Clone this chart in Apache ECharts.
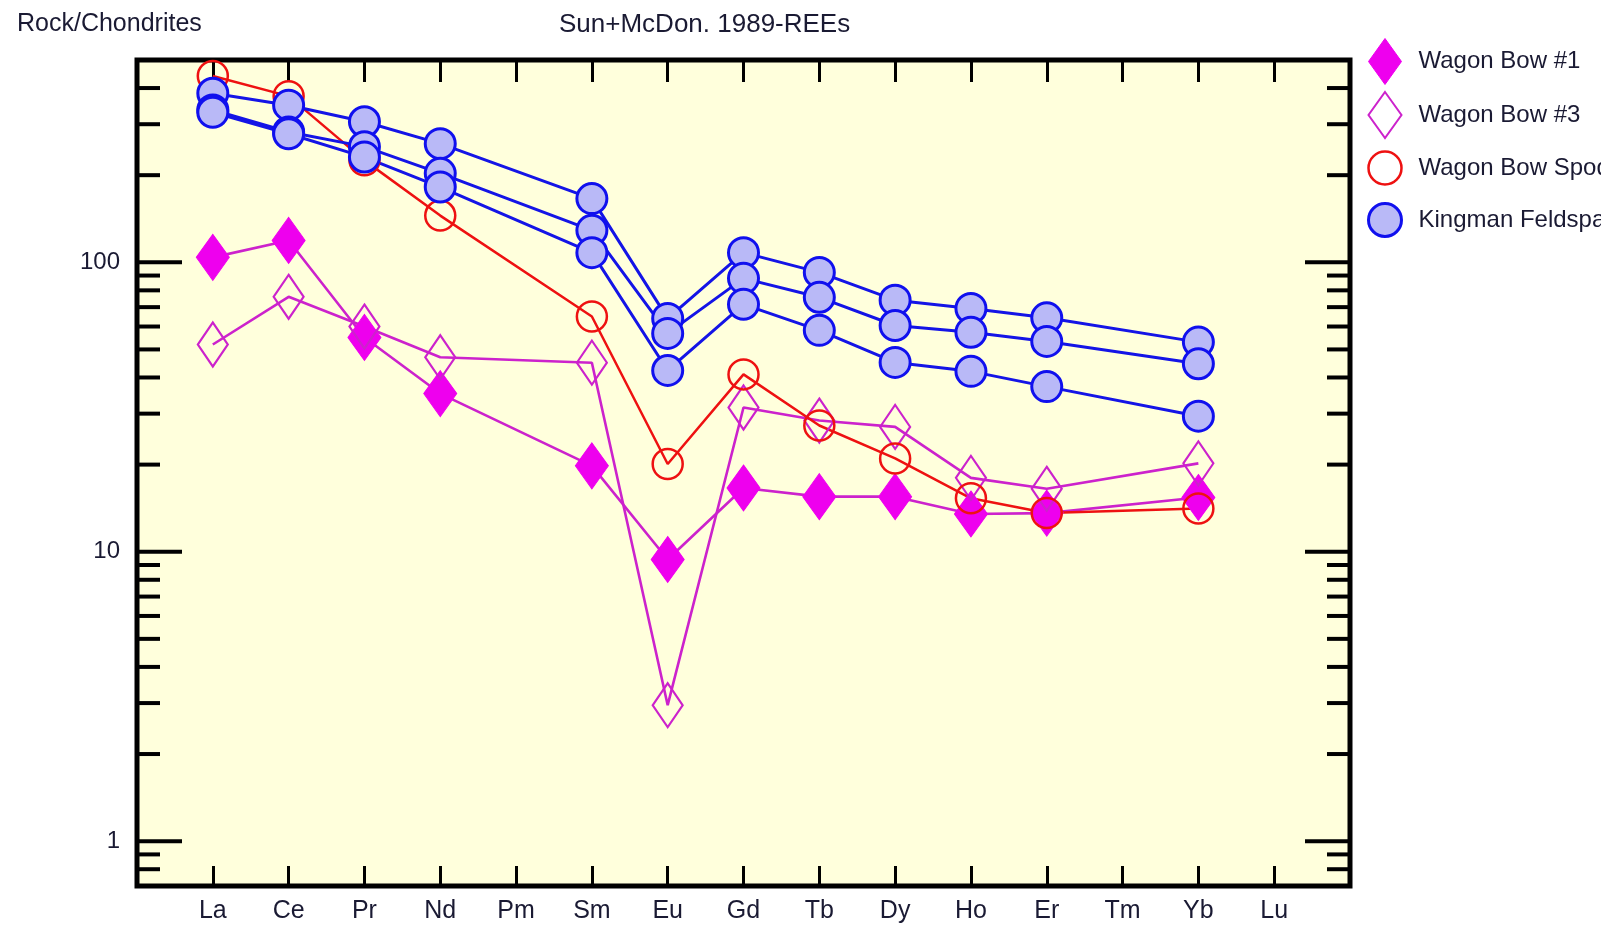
<!DOCTYPE html>
<html lang="en">
<head>
    <meta charset="utf-8">
    <title>Rock/Chondrites REE</title>
    <script type="text/javascript" src="https://cdn.jsdelivr.net/npm/echarts@6.0.0/dist/echarts.min.js"></script>
    <style>
        html, body { margin: 0; padding: 0; background: #fff; }
        #main { width: 1601px; height: 927px; }
    </style>
</head>
<body>
    <div id="main"></div>

    <script type="text/javascript">
    // REE order, Pm / Tm / Lu have no analyses
    var ree = ['La', 'Ce', 'Pr', 'Nd', 'Pm', 'Sm', 'Eu', 'Gd', 'Tb', 'Dy', 'Ho', 'Er', 'Tm', 'Yb', 'Lu'];

    var wagonBow1 = [104, 119, 55, 35.2, null, 19.8, 9.4, 16.6, 15.5, 15.5, 13.5, 13.6, null, 15.4, null];
    var wagonBow3 = [52, 76, 60, 47, null, 45, 2.95, 31.5, 28.4, 27, 18, 16.5, null, 20.2, null];
    var wagonBowSp = [440, 375, 225, 145, null, 65, 20.1, 41, 27.3, 21, 15.3, 13.6, null, 14.1, null];
    var kingmanA = [384, 349, 306, 257, null, 166, 64, 108, 92.3, 74, 69.3, 64.3, null, 53, null];
    var kingmanB = [336, 282, 251, 203, null, 129, 56.8, 88, 75.7, 60.5, 57.3, 53.3, null, 44.6, null];
    var kingmanC = [330, 278, 231, 182, null, 108, 42.3, 71.6, 58.2, 45.1, 42, 37.2, null, 29.4, null];

    // y axis tick values, drawn on both sides of the frame
    var majorTicks = [1, 10, 100];
    var minorTicks = [0.8, 0.9, 2, 3, 4, 5, 6, 7, 8, 9, 20, 30, 40, 50, 60, 70, 80, 90, 200, 300, 400];

    var font = "'Liberation Sans', Arial, sans-serif";
    var ink = '#1a1a33';

    function pairs(arr) {
        var out = [];
        arr.forEach(function (v, i) {
            if (v != null) out.push([i + 1, v]);
        });
        return out;
    }

    function kingman(arr) {
        return {
            name: 'Kingman Feldspar',
            type: 'line',
            data: pairs(arr),
            symbol: 'circle',
            symbolSize: 30,
            itemStyle: { color: '#b9b9f7', borderColor: '#1010ee', borderWidth: 3 },
            lineStyle: { color: '#1414e6', width: 3 }
        };
    }

    var myChart = echarts.init(document.getElementById('main'));

    myChart.setOption({
        animation: false,
        title: [{
            text: 'Rock/Chondrites',
            left: 17, top: 12, padding: 0,
            textStyle: { fontSize: 25, fontWeight: 'normal', fontFamily: font, color: ink }
        }, {
            text: 'Sun+McDon. 1989-REEs',
            left: 559, top: 12, padding: 0,
            textStyle: { fontSize: 26, fontWeight: 'normal', fontFamily: font, color: ink }
        }],
        legend: {
            orient: 'vertical',
            left: 1367, top: 38, padding: 0,
            itemWidth: 33, itemHeight: 46, itemGap: 6,
            selectedMode: false,
            textStyle: { fontSize: 24, lineHeight: 46, fontFamily: font, color: ink, padding: [0, 0, 0, 12] },
            data: [
                { name: 'Wagon Bow #1', icon: 'diamond', itemStyle: { color: '#ee00ee', borderColor: '#ee00ee', borderWidth: 1 } },
                { name: 'Wagon Bow #3', icon: 'diamond', itemStyle: { color: '#ffffff', borderColor: '#cc22cc', borderWidth: 2 } },
                { name: 'Wagon Bow Spodumene', icon: 'circle', itemStyle: { color: '#ffffff', borderColor: '#ee1111', borderWidth: 2.5 } },
                { name: 'Kingman Feldspar', icon: 'circle', itemStyle: { color: '#b9b9f7', borderColor: '#1010ee', borderWidth: 3 } }
            ]
        },
        grid: {
            left: 137, top: 60, right: 251, bottom: 41,
            show: true,
            backgroundColor: '#ffffdc',
            borderColor: '#000',
            borderWidth: 5
        },
        xAxis: [{
            type: 'value', min: 0, max: 16, interval: 1,
            position: 'bottom',
            axisLine: { show: false },
            splitLine: { show: false },
            axisTick: { inside: true, length: 20, lineStyle: { color: '#000', width: 3 } },
            axisLabel: {
                margin: 13,
                fontSize: 25, fontFamily: font, color: ink,
                formatter: function (v) { return ree[v - 1] || ''; }
            }
        }, {
            type: 'value', min: 0, max: 16, interval: 1,
            position: 'top',
            axisLine: { show: false },
            splitLine: { show: false },
            axisTick: { inside: true, length: 22, lineStyle: { color: '#000', width: 3 } },
            axisLabel: { show: false }
        }],
        yAxis: {
            type: 'log', logBase: 10, min: 0.7, max: 500,
            axisLine: { show: false },
            splitLine: { show: false },
            axisTick: { show: false },
            axisLabel: {
                margin: 17,
                showMinLabel: false, showMaxLabel: false,
                fontSize: 24, fontFamily: font, color: ink
            }
        },
        series: [{
            // log ticks on left and right frame edges
            type: 'custom',
            silent: true,
            data: majorTicks.concat(minorTicks).map(function (v) { return [0, v]; }),
            renderItem: function (params, api) {
                var v = api.value(1);
                var len = majorTicks.indexOf(v) >= 0 ? 45 : 23;
                var l = api.coord([0, v]);
                var r = api.coord([16, v]);
                var st = { stroke: '#000', lineWidth: 4 };
                return {
                    type: 'group',
                    children: [
                        { type: 'line', shape: { x1: l[0], y1: l[1], x2: l[0] + len, y2: l[1] }, style: st },
                        { type: 'line', shape: { x1: r[0] - len, y1: r[1], x2: r[0], y2: r[1] }, style: st }
                    ]
                };
            }
        }, {
            name: 'Wagon Bow #1',
            type: 'line',
            data: pairs(wagonBow1),
            symbol: 'diamond',
            symbolSize: [33, 46],
            itemStyle: { color: '#ee00ee', borderColor: '#ee00ee', borderWidth: 1 },
            lineStyle: { color: '#cc22cc', width: 2.6 }
        }, {
            name: 'Wagon Bow #3',
            type: 'line',
            data: pairs(wagonBow3),
            symbol: 'diamond',
            symbolSize: [30, 44],
            itemStyle: { color: 'rgba(0,0,0,0)', borderColor: '#cc22cc', borderWidth: 2.2 },
            lineStyle: { color: '#cc22cc', width: 2.6 }
        }, {
            name: 'Wagon Bow Spodumene',
            type: 'line',
            data: pairs(wagonBowSp),
            symbol: 'circle',
            symbolSize: 30,
            itemStyle: { color: 'rgba(0,0,0,0)', borderColor: '#ee1111', borderWidth: 2.5 },
            lineStyle: { color: '#ee1111', width: 2.5 }
        },
        kingman(kingmanA),
        kingman(kingmanB),
        kingman(kingmanC)
        ]
    });
    </script>
</body>
</html>
